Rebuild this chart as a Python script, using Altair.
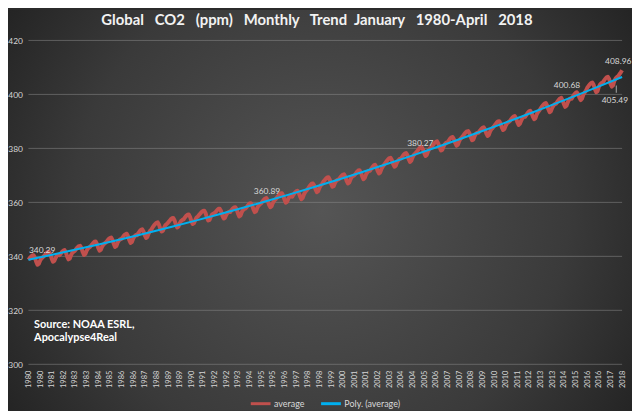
import altair as alt
import pandas as pd

# ---- data: NOAA ESRL global monthly mean CO2 (ppm), Jan 1980 - Apr 2018 ----
y1980 = [338.7, 339.3, 339.9, 340.3, 340.4, 339.5, 338.0, 336.9, 337.2, 338.4, 339.2, 339.6]
y1981 = [340.1, 340.6, 341.2, 341.6, 341.6, 340.7, 339.1, 338.0, 338.3, 339.4, 340.2, 340.6]
y1982 = [340.4, 341.0, 341.7, 342.1, 342.3, 341.4, 339.9, 338.9, 339.2, 340.5, 341.3, 341.7]
y1983 = [342.1, 342.8, 343.4, 343.8, 343.9, 343.1, 341.6, 340.5, 340.9, 342.1, 342.9, 343.3]
y1984 = [343.7, 344.3, 344.9, 345.4, 345.5, 344.6, 343.1, 342.1, 342.4, 343.6, 344.4, 344.8]
y1985 = [345.2, 345.8, 346.4, 346.8, 347.0, 346.1, 344.6, 343.5, 343.8, 345.1, 345.9, 346.3]
y1986 = [346.5, 347.1, 347.8, 348.2, 348.4, 347.5, 346.0, 345.0, 345.3, 346.6, 347.4, 347.9]
y1987 = [347.8, 348.6, 349.3, 349.8, 350.0, 349.2, 347.8, 346.8, 347.2, 348.5, 349.4, 349.9]
y1988 = [350.7, 351.4, 352.0, 352.4, 352.6, 351.7, 350.2, 349.2, 349.5, 350.7, 351.6, 352.0]
y1989 = [352.5, 353.1, 353.7, 354.1, 354.2, 353.3, 351.8, 350.7, 351.0, 352.3, 353.1, 353.5]
y1990 = [353.7, 354.4, 355.0, 355.4, 355.5, 354.6, 353.1, 352.0, 352.3, 353.5, 354.4, 354.8]
y1991 = [355.4, 355.9, 356.5, 356.8, 356.9, 356.0, 354.4, 353.3, 353.5, 354.7, 355.5, 355.8]
y1992 = [356.1, 356.6, 357.2, 357.6, 357.6, 356.7, 355.1, 354.0, 354.3, 355.4, 356.2, 356.5]
y1993 = [356.4, 357.1, 357.7, 358.1, 358.2, 357.4, 355.9, 354.8, 355.1, 356.4, 357.2, 357.6]
y1994 = [357.8, 358.4, 359.1, 359.6, 359.7, 358.9, 357.4, 356.4, 356.7, 358.0, 358.8, 359.3]
y1995 = [359.7, 360.3, 361.0, 361.4, 361.6, 360.7, 359.2, 358.2, 358.5, 359.8, 360.6, 361.1]
y1996 = [361.7, 362.3, 362.9, 363.3, 363.4, 362.5, 361.0, 359.9, 360.2, 361.4, 362.2, 362.5]
y1997 = [362.1, 362.9, 363.6, 364.1, 364.3, 363.5, 362.2, 361.2, 361.6, 362.9, 363.8, 364.4]
y1998 = [365.0, 365.7, 366.4, 366.9, 367.0, 366.2, 364.8, 363.8, 364.1, 365.4, 366.3, 366.8]
y1999 = [367.6, 368.2, 368.8, 369.2, 369.3, 368.4, 366.9, 365.8, 366.0, 367.2, 368.0, 368.4]
y2000 = [368.5, 369.2, 369.8, 370.2, 370.4, 369.5, 368.0, 367.0, 367.3, 368.5, 369.4, 369.8]
y2001 = [370.0, 370.6, 371.3, 371.8, 371.9, 371.1, 369.7, 368.6, 369.0, 370.3, 371.1, 371.6]
y2002 = [371.7, 372.4, 373.1, 373.7, 373.9, 373.1, 371.7, 370.7, 371.1, 372.4, 373.3, 373.9]
y2003 = [374.6, 375.3, 375.9, 376.4, 376.5, 375.7, 374.2, 373.2, 373.5, 374.8, 375.6, 376.1]
y2004 = [376.2, 376.9, 377.6, 378.1, 378.3, 377.5, 376.0, 375.0, 375.4, 376.7, 377.6, 378.1]
y2005 = [378.6, 379.2, 379.9, 380.4, 380.5, 379.7, 378.3, 377.2, 377.6, 378.9, 379.7, 380.2]
y2006 = [380.7, 381.3, 382.0, 382.4, 382.6, 381.7, 380.3, 379.2, 379.5, 380.8, 381.6, 382.1]
y2007 = [382.2, 382.9, 383.6, 384.1, 384.2, 383.4, 382.0, 381.0, 381.3, 382.6, 383.5, 384.0]
y2008 = [384.6, 385.3, 385.9, 386.3, 386.4, 385.6, 384.1, 383.0, 383.3, 384.6, 385.4, 385.8]
y2009 = [385.8, 386.5, 387.1, 387.6, 387.8, 387.0, 385.6, 384.6, 385.0, 386.3, 387.2, 387.6]
y2010 = [388.2, 388.9, 389.5, 390.0, 390.1, 389.3, 387.8, 386.8, 387.2, 388.4, 389.3, 389.7]
y2011 = [390.0, 390.7, 391.3, 391.8, 392.0, 391.2, 389.7, 388.7, 389.1, 390.3, 391.2, 391.7]
y2012 = [391.7, 392.4, 393.2, 393.7, 393.9, 393.1, 391.8, 390.8, 391.2, 392.6, 393.5, 394.0]
y2013 = [394.8, 395.5, 396.1, 396.6, 396.8, 395.9, 394.5, 393.4, 393.8, 395.1, 395.9, 396.4]
y2014 = [396.6, 397.3, 398.0, 398.5, 398.7, 397.8, 396.4, 395.4, 395.8, 397.1, 398.0, 398.5]
y2015 = [398.4, 399.2, 400.0, 400.5, 400.8, 400.1, 398.8, 397.9, 398.4, 399.8, 400.7, 401.3]
y2016 = [402.4, 403.1, 403.7, 404.2, 404.4, 403.6, 401.9, 400.8, 401.2, 402.8, 403.7, 404.2]
y2017 = [404.4, 405.1, 405.8, 406.3, 406.5, 405.7, 404.0, 402.9, 403.3, 405.0, 405.9, 406.4]
y2018 = [406.8, 407.5, 408.2, 408.96]

years = [y1980, y1981, y1982, y1983, y1984, y1985, y1986, y1987, y1988, y1989,
         y1990, y1991, y1992, y1993, y1994, y1995, y1996, y1997, y1998, y1999,
         y2000, y2001, y2002, y2003, y2004, y2005, y2006, y2007, y2008, y2009,
         y2010, y2011, y2012, y2013, y2014, y2015, y2016, y2017, y2018]

# category-axis tick labels (every 9th month)
tick_labels = ["1980", "1980", "1981", "1982", "1983", "1983", "1984", "1985", "1986", "1986",
               "1987", "1988", "1989", "1989", "1990", "1991", "1992", "1992", "1993", "1994",
               "1995", "1995", "1996", "1997", "1998", "1998", "1999", "2000", "2001", "2001",
               "2002", "2003", "2004", "2004", "2005", "2006", "2007", "2007", "2008", "2009",
               "2010", "2010", "2011", "2012", "2013", "2013", "2014", "2015", "2016", "2016",
               "2017", "2018"]
y_ticks = [300, 320, 340, 360, 380, 400, 420]

# value annotations (text, month index, vertical position in ppm)
ann_text = ["340.29", "360.89", "380.27", "400.68", "408.96", "405.49"]
ann_idx = [10.6, 184.5, 303.0, 416.4, 456.0, 453.4]
ann_pos = [342.3, 364.3, 381.9, 403.4, 412.2, 397.8]

# leader line for the 405.49 label
lead_idx = [454.5]
lead_top = [403.3]
lead_bot = [400.6]

source_lines = ["Source: NOAA ESRL,", "Apocalypse4Real"]
source_idx = [4.4, 4.4]
source_pos = [314.6, 309.6]

series_names = ["average", "Poly. (average)"]
series_colors = ["#c0504d", "#00b0f0"]

title_text = "Global\u00a0\u00a0 CO2\u00a0\u00a0 (ppm)\u00a0\u00a0 Monthly\u00a0\u00a0 Trend\u00a0 January\u00a0\u00a0 1980-April\u00a0\u00a0 2018"

# ---- build tables ----
values = [v for yr in years for v in yr]
df = pd.DataFrame({"idx": list(range(len(values))), "co2": values,
                   "series": [series_names[0]] * len(values)})
ann_df = pd.DataFrame({"idx": ann_idx, "co2": ann_pos, "label": ann_text})
lead_df = pd.DataFrame({"idx": lead_idx, "co2": lead_top, "co2b": lead_bot})
src_df = pd.DataFrame({"idx": source_idx, "co2": source_pos, "label": source_lines})
grid_df = pd.DataFrame({"co2": y_ticks})

W, H = 599.4, 327
PAD_L, PAD_T, PAD_R, PAD_B = 20.6, 30.8, 10, 45
FONT = "Lato"

label_expr = "[" + ",".join("'%s'" % s for s in tick_labels) + "][round(datum.value / 9)]"

x_enc = alt.X(
    "idx:Q",
    scale=alt.Scale(domain=[0, len(values) - 1], nice=False, zero=False),
    axis=alt.Axis(values=list(range(0, len(values), 9)), labelExpr=label_expr,
                  labelAngle=-90, labelFont=FONT, labelFontSize=7.5, labelColor="#d6d6d6",
                  labelPadding=6, labelOverlap=False, labelSeparation=0,
                  labelFlush=False, labelBound=False,
                  grid=False, domain=False, ticks=False, tickSize=0, title=None, zindex=2),
)
y_enc = alt.Y(
    "co2:Q",
    scale=alt.Scale(domain=[300, 420], nice=False, zero=False),
    axis=alt.Axis(values=y_ticks, labelFont=FONT, labelFontSize=8.5, labelColor="#d6d6d6",
                  labelPadding=6, labelOverlap=False, grid=False, domain=False, ticks=False,
                  tickSize=0, title=None, zindex=2),
)

color_enc = alt.Color(
    "series:N",
    scale=alt.Scale(domain=series_names, range=series_colors),
    legend=alt.Legend(title=None, orient="none", direction="horizontal",
                      legendX=223, legendY=355, zindex=2,
                      symbolType="stroke", symbolStrokeWidth=3,
                      symbolSize=400, labelFont=FONT, labelFontSize=9,
                      labelColor="#d9d9d9", labelOffset=2, columnPadding=10),
)

bg = alt.Chart(alt.Data(values=[{"k": 1}])).mark_rect(
    fill={"gradient": "radial",
          "x1": 0.5, "y1": 0.5, "r1": 0.0,
          "x2": 0.5, "y2": 0.5, "r2": 0.72,
          "stops": [{"offset": 0, "color": "#555555"},
                    {"offset": 0.55, "color": "#3a3a3a"},
                    {"offset": 1, "color": "#161616"}]},
).encode(
    x=alt.value(-PAD_L), x2=alt.value(W + PAD_R + 2),
    y=alt.value(-PAD_T), y2=alt.value(H + PAD_B + 2),
)

grid = alt.Chart(grid_df).mark_rule(color="#909090", opacity=0.5, strokeWidth=1).encode(
    y=y_enc)

red = alt.Chart(df).mark_line(strokeWidth=4, strokeJoin="round").encode(
    x=x_enc, y=y_enc, color=color_enc,
)

blue = alt.Chart(df).transform_regression(
    "idx", "co2", method="poly", order=2
).transform_calculate(
    series="'" + series_names[1] + "'"
).mark_line(strokeWidth=2).encode(
    x=x_enc, y=y_enc, color=color_enc,
)

ann = alt.Chart(ann_df).mark_text(font=FONT, fontSize=8.5, color="#d9d9d9",
                                  align="center", baseline="middle").encode(
    x=x_enc, y=y_enc, text="label:N")

lead = alt.Chart(lead_df).mark_rule(color="#a6a6a6", strokeWidth=1).encode(
    x=x_enc, y=y_enc, y2="co2b:Q")

src = alt.Chart(src_df).mark_text(font=FONT, fontSize=11, fontWeight="bold", color="#ffffff",
                                  align="left", baseline="middle").encode(
    x=x_enc, y=y_enc, text="label:N")

title_df = pd.DataFrame({"t": [title_text]})
title = alt.Chart(title_df).mark_text(font=FONT, fontSize=15, fontWeight="bold", color="#f2f2f2",
                                      align="center", baseline="alphabetic").encode(
    x=alt.value(291.3), y=alt.value(-15.5), text="t:N")

chart = alt.layer(bg, grid, red, blue, ann, lead, src, title).properties(
    width=W, height=H,
    autosize=alt.AutoSizeParams(type="none"),
    padding={"left": PAD_L, "top": PAD_T, "right": PAD_R, "bottom": PAD_B},
    background="#2b2b2b",
).configure_view(stroke=None).configure_axis(labelOverlap=False)

chart.save("out.html", embed_options={"renderer": "svg", "actions": False})
